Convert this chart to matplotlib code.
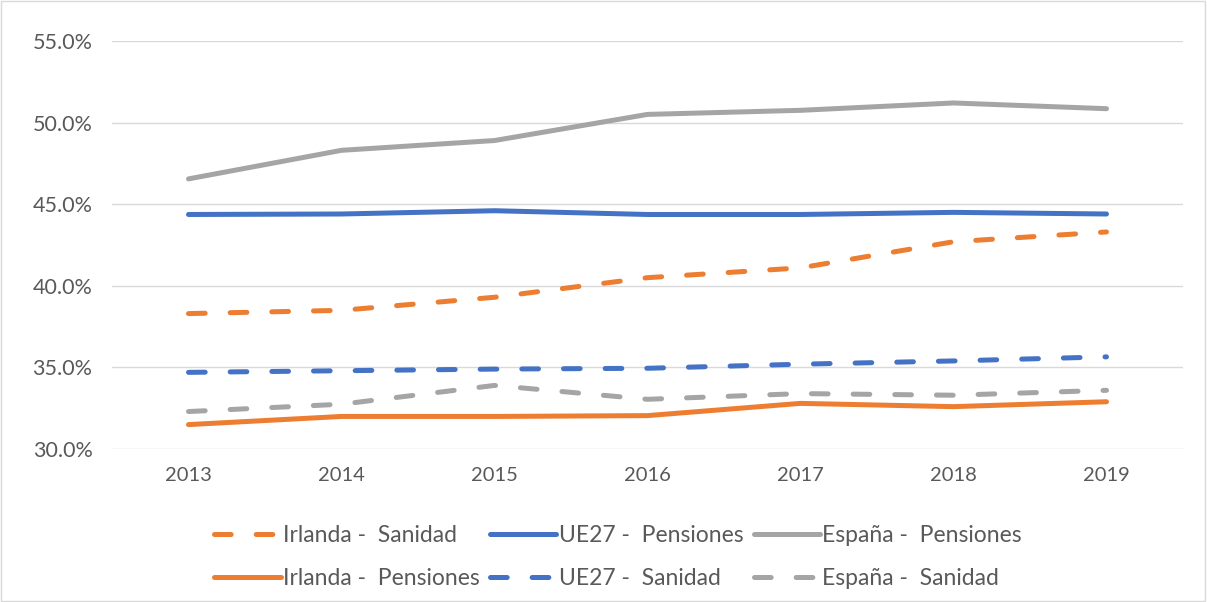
import matplotlib
matplotlib.use("Agg")
import matplotlib.pyplot as plt
from matplotlib.patches import Rectangle
from matplotlib.ticker import FuncFormatter

plt.rcParams["font.family"] = ["Lato", "DejaVu Sans"]
plt.rcParams["lines.scale_dashes"] = False

# ── Data (share of spending, %) ───────────────────────────────────────────
years = ["2013", "2014", "2015", "2016", "2017", "2018", "2019"]
irlanda_sanidad = [38.3, 38.5, 39.3, 40.5, 41.1, 42.7, 43.3]
irlanda_pensiones = [31.5, 32.0, 32.0, 32.05, 32.8, 32.6, 32.9]
ue27_pensiones = [44.37, 44.4, 44.6, 44.37, 44.37, 44.5, 44.4]
ue27_sanidad = [34.7, 34.8, 34.9, 34.95, 35.2, 35.4, 35.65]
espana_pensiones = [46.55, 48.3, 48.9, 50.5, 50.75, 51.2, 50.85]
espana_sanidad = [32.3, 32.75, 33.9, 33.05, 33.4, 33.3, 33.6]

_ORANGE = "#ED7D31"
_BLUE = "#4472C4"
_GREY = "#A5A5A5"
_TEXT = "#595959"
_GRID = "#D9D9D9"

_LW = 3.6
_DASH = (12.0, 18.0)

fig = plt.figure(figsize=(12.07, 6.02), dpi=100, facecolor="white")
ax = fig.add_axes([0.0928, 0.254, 0.8873, 0.678])

x = range(len(years))
series = [
    # (values, colour, dashed, label)  -- column-wise legend order
    (irlanda_sanidad, _ORANGE, True, "Irlanda -  Sanidad"),
    (irlanda_pensiones, _ORANGE, False, "Irlanda -  Pensiones"),
    (ue27_pensiones, _BLUE, False, "UE27 -  Pensiones"),
    (ue27_sanidad, _BLUE, True, "UE27 -  Sanidad"),
    (espana_pensiones, _GREY, False, "España -  Pensiones"),
    (espana_sanidad, _GREY, True, "España -  Sanidad"),
]
for vals, col, dashed, lbl in series:
    line, = ax.plot(x, vals, color=col, lw=_LW, label=lbl,
                    solid_capstyle="round", dash_capstyle="round",
                    solid_joinstyle="round", zorder=3)
    if dashed:
        line.set_dashes(_DASH)

ax.set_xlim(-0.5, len(years) - 0.5)
ax.set_ylim(30, 55)
ax.set_yticks([30, 35, 40, 45, 50, 55])
ax.yaxis.set_major_formatter(FuncFormatter(lambda v, _: f"{v:.1f}%"))
ax.set_xticks(list(x))
ax.set_xticklabels(years)

ax.grid(axis="y", color=_GRID, lw=1.0, zorder=0)
for s in ax.spines.values():
    s.set_visible(False)
ax.tick_params(axis="both", length=0, colors=_TEXT, labelsize=14.5)
ax.tick_params(axis="y", labelsize=15.5, pad=14)
ax.tick_params(axis="x", pad=13)

leg = fig.legend(loc="lower center", bbox_to_anchor=(0.512, -0.012), ncol=3,
                 frameon=False, fontsize=16.5, handlelength=2.9,
                 handletextpad=0.1, columnspacing=0.45, labelspacing=0.95,
                 labelcolor=_TEXT)

# outer chart border
fig.add_artist(Rectangle((0.001, 0.001), 0.997, 0.997, transform=fig.transFigure,
                         fill=False, ec=_GRID, lw=1.0))

fig.savefig("out.png", dpi=100, facecolor="white")
